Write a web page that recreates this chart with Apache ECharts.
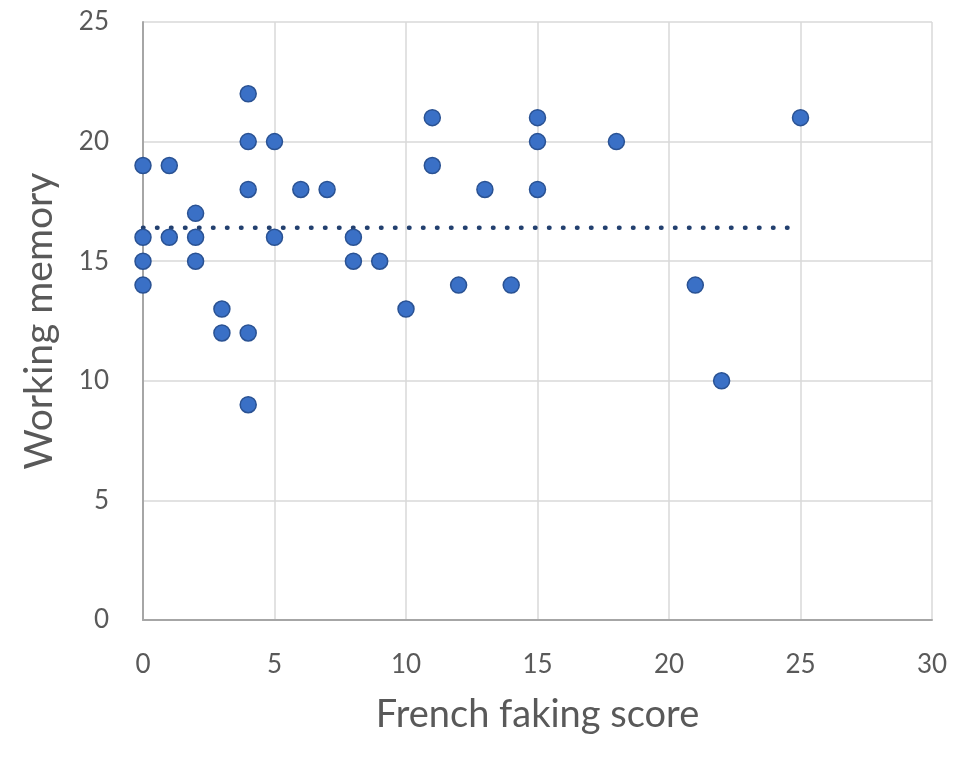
<!DOCTYPE html>
<html>
<head>
<meta charset="utf-8">
<script src="https://cdn.jsdelivr.net/npm/echarts@6/dist/echarts.min.js"></script>
<style>html,body{margin:0;padding:0;background:#fff}#c{width:970px;height:761px}</style>
</head>
<body>
<div id="c"></div>
<script>
const fakingScore = [0,0,0,0, 1,1, 2,2,2, 3,3, 4,4,4,4,4, 5,5, 6, 7, 8,8, 9, 10, 11,11, 12, 13, 14, 15,15,15, 18, 21, 22, 25];
const workingMemory = [19,16,15,14, 19,16, 17,16,15, 13,12, 22,20,18,12,9, 20,16, 18, 18, 16,15, 15, 13, 21,19, 14, 18, 14, 21,20,18, 20, 14, 10, 21];
const trendX = [0, 25];
const trendY = [16.4, 16.4];
const xTicks = [0,5,10,15,20,25,30];
const yTicks = [0,5,10,15,20,25];

const points = fakingScore.map((x, i) => [x, workingMemory[i]]);
const trend = trendX.map((x, i) => [x, trendY[i]]);
const font = 'Lato, "Open Sans", sans-serif';

const chart = echarts.init(document.getElementById('c'), null, {renderer: 'canvas'});
chart.setOption({
  animation: false,
  backgroundColor: '#ffffff',
  grid: {left: 143, right: 38, top: 22, bottom: 141, containLabel: false},
  xAxis: {
    type: 'value', min: xTicks[0], max: xTicks[xTicks.length - 1], interval: 5,
    name: 'French faking score', nameLocation: 'middle', nameGap: 76,
    nameTextStyle: {fontFamily: font, fontSize: 38, color: '#595959'},
    axisLine: {show: true, lineStyle: {color: '#a6a6a6', width: 2}},
    axisTick: {show: false},
    axisLabel: {fontFamily: font, fontSize: 26, color: '#595959', margin: 32},
    splitLine: {show: true, lineStyle: {color: '#d9d9d9', width: 1.5}}
  },
  yAxis: {
    type: 'value', min: yTicks[0], max: yTicks[yTicks.length - 1], interval: 5,
    name: 'Working memory', nameLocation: 'middle', nameGap: 84,
    nameTextStyle: {fontFamily: font, fontSize: 39, color: '#595959'},
    axisLine: {show: true, lineStyle: {color: '#a6a6a6', width: 2}},
    axisTick: {show: false},
    axisLabel: {fontFamily: font, fontSize: 26, color: '#595959', margin: 34},
    splitLine: {show: true, lineStyle: {color: '#d9d9d9', width: 1.5}}
  },
  series: [
    {
      type: 'line', data: trend, symbol: 'none', z: 1,
      lineStyle: {color: '#23406f', width: 4.5, type: [0.5, 13.5], cap: 'round'}
    },
    {
      type: 'scatter', data: points, symbol: 'circle', symbolSize: 16, z: 2,
      itemStyle: {color: '#3a70c6', borderColor: '#2a5293', borderWidth: 1.5, opacity: 1}
    }
  ]
});
</script>
</body>
</html>
